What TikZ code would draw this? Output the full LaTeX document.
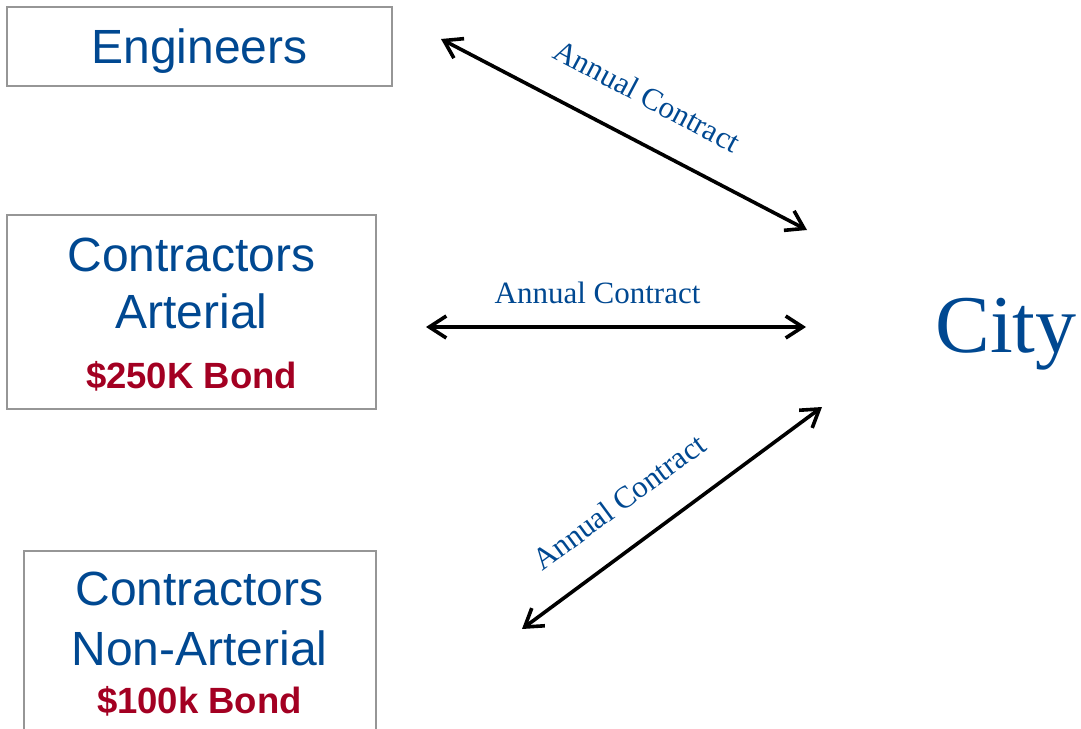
\documentclass[tikz,border=0pt]{standalone}
\usepackage{fontspec}
\setmainfont{Liberation Serif}
\newfontfamily\arialfont{Liberation Sans}
\usetikzlibrary{arrows.meta}
\definecolor{dblue}{RGB}{0,72,145}
\definecolor{dred}{RGB}{163,0,34}
\definecolor{boxgray}{RGB}{150,150,150}
\begin{document}
\begin{tikzpicture}[x=1pt,y=-1pt,
  boxstyle/.style={draw=boxgray,line width=2pt,inner sep=0pt,outer sep=0pt},
  bluetext/.style={text=dblue,font=\arialfont\fontsize{48}{48}\selectfont,anchor=base,inner sep=0pt},
  bondtext/.style={text=dred,font=\arialfont\bfseries\fontsize{36.5}{36.5}\selectfont,anchor=base,inner sep=0pt},
  lbl/.style={text=dblue,font=\fontsize{31}{31}\selectfont,inner sep=0pt},
  conn/.style={line width=3.6pt,{Straight Barb[length=17pt,width=22pt]}-{Straight Barb[length=17pt,width=22pt]}}]
\useasboundingbox (0,0) rectangle (1081,728);
% boxes
\node[boxstyle,minimum width=385pt,minimum height=79pt] (engbox) at (199.5,46.5) {};
\node[boxstyle,minimum width=369pt,minimum height=194pt] (artbox) at (191.5,312) {};
\draw[draw=boxgray,line width=2pt] (24,740) -- (24,551) -- (376,551) -- (376,740);
\node[inner sep=0pt] (nonbox) at (200,640) {};
% texts
\node[bluetext] (eng) at (199.5,63) {Engineers};
\node[bluetext] (art1) at (191.5,271) {Contractors};
\node[bluetext] (art2) at (191.5,328) {Arterial};
\node[bondtext] (art3) at (191.5,388) {\$250K Bond};
\node[bluetext] (non1) at (199.5,605) {Contractors};
\node[bluetext] (non2) at (199.5,665) {Non-Arterial};
\node[bondtext] (non3) at (199.5,713) {\$100k Bond};
\node[text=dblue,font=\fontsize{82}{82}\selectfont,anchor=base,inner sep=0pt] (city) at (1006,352) {City};
% connector endpoints
\coordinate (e1) at (441,39);
\coordinate (c1) at (807,230);
\coordinate (e2) at (426,327);
\coordinate (c2) at (806,327);
\coordinate (e3) at (522,629);
\coordinate (c3) at (822,407);
\draw[conn] (e1) -- (c1);
\draw[conn] (e2) -- (c2);
\draw[conn] (e3) -- (c3);
% labels
\node[lbl,rotate=-28] (l1) at (647,96) {Annual Contract};
\node[lbl,anchor=base] (l2) at (597.5,303) {Annual Contract};
\node[lbl,rotate=36.5] (l3) at (619,502) {Annual Contract};
\end{tikzpicture}
\end{document}
